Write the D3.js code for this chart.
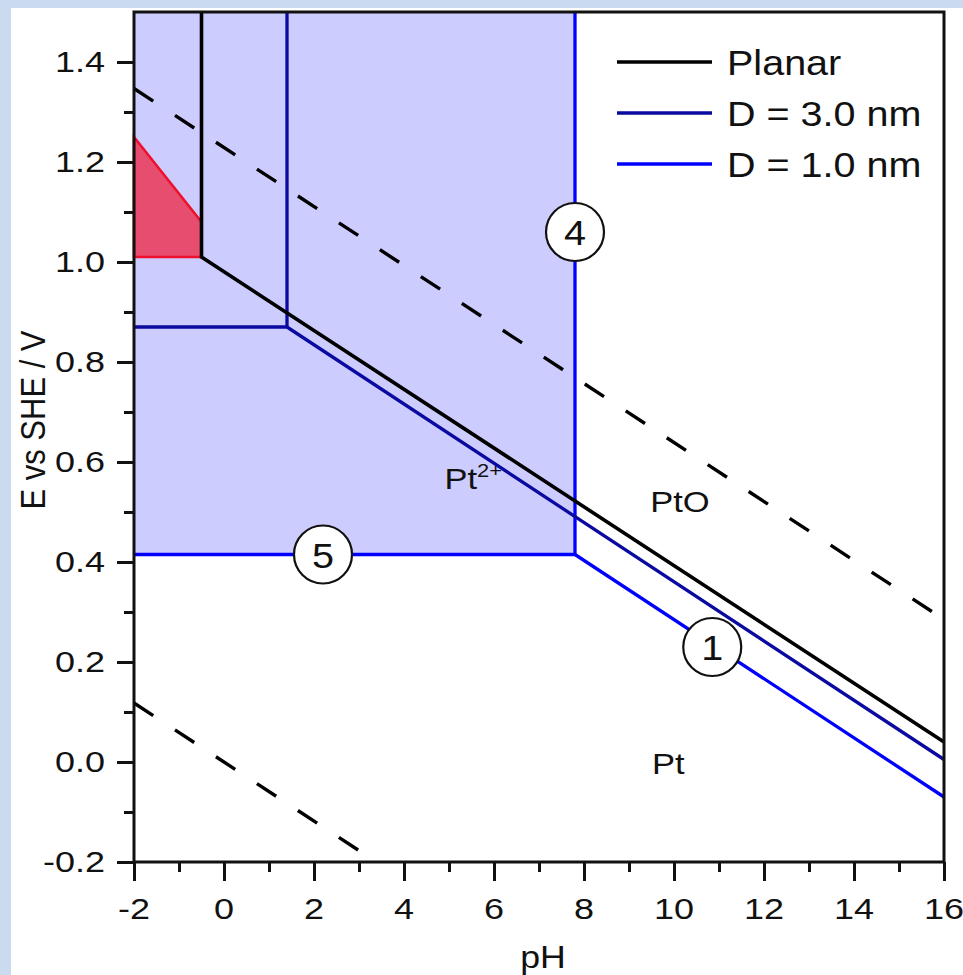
<!DOCTYPE html>
<html>
<head>
<meta charset="utf-8">
<script src="https://cdn.jsdelivr.net/npm/d3@7"></script>
<style>
    body { margin: 0; background: #cadbef; }
    svg { display: block; font-family: "Liberation Sans", Arial, sans-serif; }
</style>
</head>
<body>
<svg id="chart" width="963" height="975"></svg>
<script>
// 坐标轴刻度
var xTicks = [-2, 0, 2, 4, 6, 8, 10, 12, 14, 16];
var xMinor = [-1, 1, 3, 5, 7, 9, 11, 13, 15];
var yTicks = [-0.2, 0.0, 0.2, 0.4, 0.6, 0.8, 1.0, 1.2, 1.4];
var yMinor = [-0.1, 0.1, 0.3, 0.5, 0.7, 0.9, 1.1, 1.3];

// 各条边界线 [pH, E]
var planar = [[-0.5, 1.5], [-0.5, 1.01], [16, 0.04]];
var d30 = [[-2, 0.87], [1.4, 0.87], [16, 0.005]];
var d30Vert = [[1.4, 1.5], [1.4, 0.87]];
var d10 = [[-2, 0.415], [7.8, 0.415], [16, -0.07]];
var d10Vert = [[7.8, 1.5], [7.8, 0.415]];
var pt2Region = [[-2, 1.5], [7.8, 1.5], [7.8, 0.415], [-2, 0.415]];
var redRegion = [[-2, 1.25], [-0.5, 1.08], [-0.5, 1.01], [-2, 1.01]];
var o2Line = [[-2, 1.347], [16, 0.285]];
var h2Line = [[-2, 0.118], [3.1, -0.183]];

var circleLabels = ["4", "5", "1"];
var circlePH = [7.8, 2.2, 10.85];
var circleE = [1.06, 0.415, 0.23];

var legendNames = ["Planar", "D = 3.0 nm", "D = 1.0 nm"];
var legendColors = ["#000000", "#0a0aa0", "#0000ff"];

var width = 963, height = 975;
var x = d3.scaleLinear().domain([-2, 16]).range([134, 944]);
var y = d3.scaleLinear().domain([-0.2, 1.5]).range([862, 12]);

var svg = d3.select("#chart");

// 白色底板
svg.append("rect").attr("x", 11).attr("y", 8).attr("width", width).attr("height", height).attr("fill", "#fff");

var line = d3.line().x(function (d) { return x(d[0]); }).y(function (d) { return y(d[1]); });

function txt(px, py, s, size, anchor, sx) {
    return svg.append("text")
        .attr("transform", "translate(" + px + "," + py + ") scale(" + (sx || 1.15) + ",1)")
        .attr("text-anchor", anchor || "start")
        .attr("font-size", size)
        .attr("fill", "#111")
        .text(s);
}

// 区域
svg.append("path").attr("d", line(pt2Region) + "Z").attr("fill", "#ccccff");
svg.append("path").attr("d", line(redRegion) + "Z")
    .attr("fill", "#e64d6e").attr("stroke", "#f0102c").attr("stroke-width", 2.5);

// 虚线 (水的稳定区)
[o2Line, h2Line].forEach(function (l) {
    svg.append("path").attr("d", line(l)).attr("fill", "none")
        .attr("stroke", "#000").attr("stroke-width", 3.4).attr("stroke-dasharray", "23,26");
});

// 边界线
function drawLine(data, color, w) {
    svg.append("path").attr("d", line(data)).attr("fill", "none")
        .attr("stroke", color).attr("stroke-width", w).attr("stroke-linejoin", "miter");
}
drawLine(d10, legendColors[2], 3.3);
drawLine(d10Vert, legendColors[2], 3.3);
drawLine(d30, legendColors[1], 3.3);
drawLine(d30Vert, legendColors[1], 3.3);
drawLine(planar, legendColors[0], 3.6);

// 圆圈编号
circleLabels.forEach(function (c, i) {
    svg.append("circle").attr("cx", x(circlePH[i])).attr("cy", y(circleE[i])).attr("r", 29)
        .attr("fill", "#fff").attr("stroke", "#111").attr("stroke-width", 2.2);
    txt(x(circlePH[i]), y(circleE[i]) + 13, c, 36, "middle", 1.1);
});

// 区域文字
txt(x(9.47), y(0.5), "PtO", 30, "start");
txt(x(9.51), y(-0.024), "Pt", 30, "start");
var p2 = txt(x(4.9), y(0.546), "Pt", 30, "start");
p2.append("tspan").attr("font-size", 19).attr("dy", -12).text("2+");

// 坐标轴
var axisX = svg.append("g").attr("transform", "translate(0," + y(-0.2) + ")");
axisX.call(d3.axisBottom(x).tickValues(xTicks).tickSize(19).tickFormat(""));
axisX.append("g").call(d3.axisBottom(x).tickValues(xMinor).tickSize(10).tickFormat(""));
var axisY = svg.append("g").attr("transform", "translate(" + x(-2) + ",0)");
axisY.call(d3.axisLeft(y).tickValues(yTicks).tickSize(17).tickFormat(""));
axisY.append("g").call(d3.axisLeft(y).tickValues(yMinor).tickSize(10).tickFormat(""));
svg.selectAll(".domain").remove();
svg.selectAll(".tick line").attr("stroke", "#111").attr("stroke-width", 3);

// 边框
svg.append("path")
    .attr("d", "M" + x(-2) + "," + y(-0.2) + "V" + y(1.5) + "H" + x(16) + "V" + y(-0.2) + "Z")
    .attr("fill", "none").attr("stroke", "#111").attr("stroke-width", 3);

xTicks.forEach(function (v) { txt(x(v), 919, String(v), 30, "middle", 1.2); });
yTicks.forEach(function (v) { txt(105, y(v) + 10, v.toFixed(1), 30, "end", 1.2); });

txt(543, 968, "pH", 31, "middle");
svg.append("text")
    .attr("transform", "translate(45,420) scale(1.15,1) rotate(-90)")
    .attr("text-anchor", "middle").attr("font-size", 31).attr("fill", "#111")
    .text("E vs SHE / V");

// 图例
legendNames.forEach(function (n, i) {
    var ly = 62 + i * 51;
    svg.append("line").attr("x1", 617).attr("x2", 712).attr("y1", ly).attr("y2", ly)
        .attr("stroke", legendColors[i]).attr("stroke-width", 3.4);
    txt(727, ly + 13, n, 35, "start", 1.13);
});
</script>
</body>
</html>
